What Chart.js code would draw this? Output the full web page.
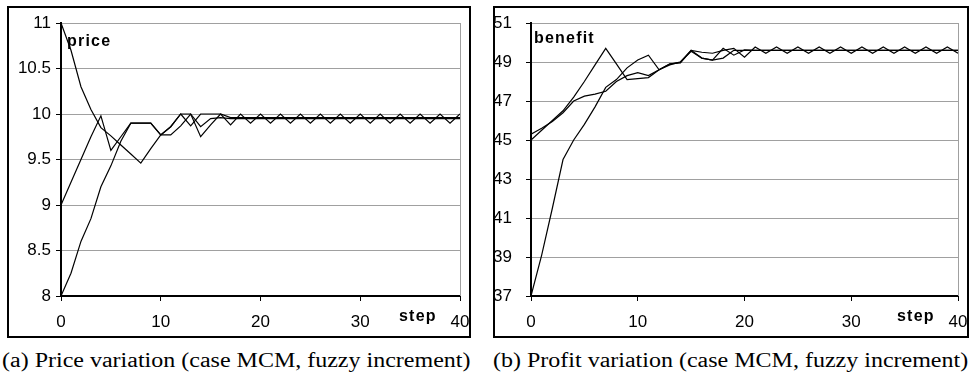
<!DOCTYPE html>
<html>
<head>
<meta charset="utf-8">
<script src="https://cdn.jsdelivr.net/npm/chart.js@4.4.1/dist/chart.umd.min.js"></script>
<style>
  html, body { margin: 0; padding: 0; background: #fff; width: 970px; height: 374px; overflow: hidden; position: relative; }
  .frame { position: absolute; border: 2px solid #000; box-sizing: border-box; background: #fff; overflow: hidden; }
  .frame canvas { display: block; }
  .cap { position: absolute; top: 350px; font: 20px 'Liberation Serif', 'Times New Roman', serif; line-height: 20px;
         white-space: nowrap; transform-origin: 0 0; transform: scaleX(1.2); color: #000; }
</style>
</head>
<body>
<div class="frame" style="left:7px;top:6px;width:464px;height:332px">
  <canvas id="priceChart" width="460" height="328" style="width:460px;height:328px"></canvas>
</div>
<div class="frame" style="left:493px;top:6px;width:476px;height:332px">
  <canvas id="benefitChart" width="472" height="328" style="width:472px;height:328px"></canvas>
</div>
<div class="cap" style="left:2px">(a) Price variation (case MCM, fuzzy increment)</div>
<div class="cap" style="left:493px">(b) Profit variation (case MCM, fuzzy increment)</div>

<script>
// simulation steps
const steps = [0, 1, 2, 3, 4, 5, 6, 7, 8, 9, 10, 11, 12, 13, 14, 15, 16, 17, 18, 19, 20,
               21, 22, 23, 24, 25, 26, 27, 28, 29, 30, 31, 32, 33, 34, 35, 36, 37, 38, 39, 40];

// price runs, starting from 11, 9 and 8
const priceHigh = [11, 10.7, 10.3, 10.05, 9.85, 9.76, 9.66, 9.56, 9.46, 9.62, 9.77, 9.86, 10.0, 9.87, 10.0,
                   10.0, 10.0, 9.88, 10.0, 9.9, 10.0, 9.9, 10.0, 9.9, 10.0, 9.9, 10.0, 9.9, 10.0, 9.9, 10.0,
                   9.9, 10.0, 9.9, 10.0, 9.9, 10.0, 9.9, 10.0, 9.9, 10.0];
const priceMid  = [9, 9.25, 9.5, 9.75, 9.98, 9.6, 9.75, 9.9, 9.9, 9.9, 9.77, 9.77, 9.87, 10.0, 9.75,
                   9.88, 10.0, 9.96, 9.96, 9.96, 9.96, 9.96, 9.96, 9.96, 9.96, 9.96, 9.96, 9.96, 9.96, 9.96, 9.96,
                   9.96, 9.96, 9.96, 9.96, 9.96, 9.96, 9.96, 9.96, 9.96, 9.96];
const priceLow  = [8, 8.25, 8.6, 8.85, 9.2, 9.43, 9.7, 9.9, 9.9, 9.9, 9.77, 9.86, 10.0, 10.0, 9.86,
                   9.95, 9.96, 9.95, 9.95, 9.95, 9.95, 9.95, 9.95, 9.95, 9.95, 9.95, 9.95, 9.95, 9.95, 9.95, 9.95,
                   9.95, 9.95, 9.95, 9.95, 9.95, 9.95, 9.95, 9.95, 9.95, 9.95];

// benefit runs for the same three starting prices
const benefitHigh = [45.0, 45.5, 46.0, 46.5, 47.2, 48.0, 48.85, 49.7, 48.9, 48.1, 48.15, 48.2, 48.6, 48.9, 48.95,
                     49.6, 49.5, 49.45, 49.6, 49.7, 49.25, 49.77, 49.45, 49.77, 49.45, 49.77, 49.45, 49.77, 49.45, 49.77, 49.45,
                     49.77, 49.45, 49.77, 49.45, 49.77, 49.45, 49.77, 49.45, 49.77, 49.45];
const benefitMid  = [45.3, 45.6, 45.95, 46.4, 47.0, 47.25, 47.35, 47.5, 48.0, 48.3, 48.45, 48.3, 48.6, 48.85, 49.0,
                     49.55, 49.2, 49.1, 49.2, 49.6, 49.6, 49.6, 49.6, 49.6, 49.6, 49.6, 49.6, 49.6, 49.6, 49.6, 49.6,
                     49.6, 49.6, 49.6, 49.6, 49.6, 49.6, 49.6, 49.6, 49.6, 49.6];
const benefitLow  = [37, 39.1, 41.5, 44.0, 45.0, 45.8, 46.7, 47.7, 48.1, 48.7, 49.1, 49.35, 48.6, 48.9, 49.0,
                     49.6, 49.2, 49.1, 49.7, 49.35, 49.62, 49.6, 49.6, 49.6, 49.6, 49.6, 49.6, 49.6, 49.6, 49.6, 49.6,
                     49.6, 49.6, 49.6, 49.6, 49.6, 49.6, 49.6, 49.6, 49.6, 49.6];

const tickFont = { family: "'Liberation Sans', Arial, sans-serif", size: 17 };

// in-plot variable name, the "step" caption and the grey right edge of the plot
const axisNotes = {
  id: 'axisNotes',
  beforeDatasetsDraw(chart) {
    const { ctx, chartArea: a } = chart;
    ctx.save();
    ctx.strokeStyle = '#a0a0a0';
    ctx.lineWidth = 1;
    ctx.beginPath();
    ctx.moveTo(a.right + 0.5, a.top);
    ctx.lineTo(a.right + 0.5, a.bottom);
    ctx.stroke();
    ctx.restore();
  },
  afterDraw(chart, args, opts) {
    const { ctx, chartArea: a } = chart;
    ctx.save();
    ctx.fillStyle = '#000';
    ctx.font = "bold 16px 'Liberation Sans', Arial, sans-serif";
    ctx.letterSpacing = '1.2px';
    ctx.textBaseline = 'alphabetic';
    ctx.textAlign = 'left';
    ctx.fillText(opts.name, a.left + opts.nameDx, a.top + opts.nameDy);
    ctx.fillText('step', a.right - 61, a.bottom + 25);
    ctx.restore();
  }
};

function buildChart(id, runs, yMin, yMax, yStep, yWidth, yPad, rightPad, name, nameDx, nameDy) {
  return new Chart(document.getElementById(id), {
    type: 'line',
    data: {
      datasets: runs.map(vals => ({
        data: steps.map((s, i) => ({ x: s, y: vals[i] })),
        borderColor: '#000',
        borderWidth: 1.2,
        pointRadius: 0,
        tension: 0,
        fill: false
      }))
    },
    options: {
      responsive: false,
      animation: false,
      devicePixelRatio: 1,
      layout: { padding: { left: 0, top: 15, right: rightPad, bottom: 0 } },
      plugins: {
        legend: { display: false },
        tooltip: { enabled: false },
        axisNotes: { name, nameDx, nameDy }
      },
      scales: {
        x: {
          type: 'linear', min: 0, max: 40,
          ticks: { stepSize: 10, font: tickFont, color: '#000', padding: 11, maxRotation: 0, autoSkip: false },
          grid: { drawOnChartArea: false, tickColor: '#000', tickLength: 5, tickWidth: 1 },
          border: { color: '#000', width: 2 },
          afterFit(s) { s.height = 40; s.paddingLeft = 0; s.paddingRight = 0; }
        },
        y: {
          type: 'linear', min: yMin, max: yMax,
          ticks: { stepSize: yStep, font: tickFont, color: '#000', padding: yPad, callback: v => String(v) },
          grid: { color: '#a0a0a0', tickColor: '#000', tickLength: 5, lineWidth: 1 },
          border: { color: '#000', width: 2 },
          afterFit(s) { s.width = yWidth; s.paddingTop = 0; s.paddingBottom = 0; }
        }
      }
    },
    plugins: [axisNotes]
  });
}

buildChart('priceChart', [priceHigh, priceMid, priceLow], 8, 11, 0.5, 52, 5, 9, 'price', 6, 23);
buildChart('benefitChart', [benefitHigh, benefitMid, benefitLow], 37, 51, 2, 36, 14, 9, 'benefit', 3, 20);
</script>
</body>
</html>
